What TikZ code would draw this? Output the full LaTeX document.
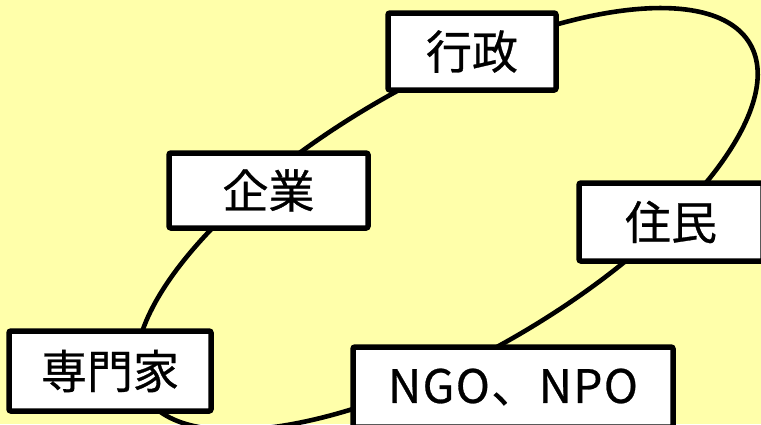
\documentclass[tikz,border=0pt]{standalone}
\usepackage{fontspec}
\newfontfamily\jp[FakeBold=0.6]{Noto Sans CJK JP}
\definecolor{bgyellow}{HTML}{FFFFAA}
\begin{document}
\begin{tikzpicture}[x=1pt,y=1pt,
  actor/.style={draw=black, line width=5.5pt, fill=white, rounded corners=2pt,
    inner sep=0pt, font=\jp\fontsize{46}{52}\selectfont},
  ring/.style={draw=black, line width=4.6pt}]
  \useasboundingbox (0,0) rectangle (761,-424);
  \clip (0,0) rectangle (761,-424);
  \fill[bgyellow] (0,0) rectangle (761,-424);
  \draw[ring, rotate around={30:(447,-219)}] (447,-219) ellipse [x radius=350, y radius=136];
  \node[actor, minimum width=168pt, minimum height=77pt] (gyosei) at (472,-51.5) {行政};
  \node[actor, minimum width=199pt, minimum height=75pt] (kigyo) at (268.5,-190.5) {企業};
  \node[actor, minimum width=184pt, minimum height=78pt] (jumin) at (671,-222) {住民};
  \node[actor, minimum width=202pt, minimum height=80pt] (senmonka) at (110,-371) {専門家};
  \node[actor, minimum width=320pt, minimum height=80pt] (ngo) at (513,-387) {\addfontfeature{LetterSpace=3}NGO、NPO};
\end{tikzpicture}
\end{document}
